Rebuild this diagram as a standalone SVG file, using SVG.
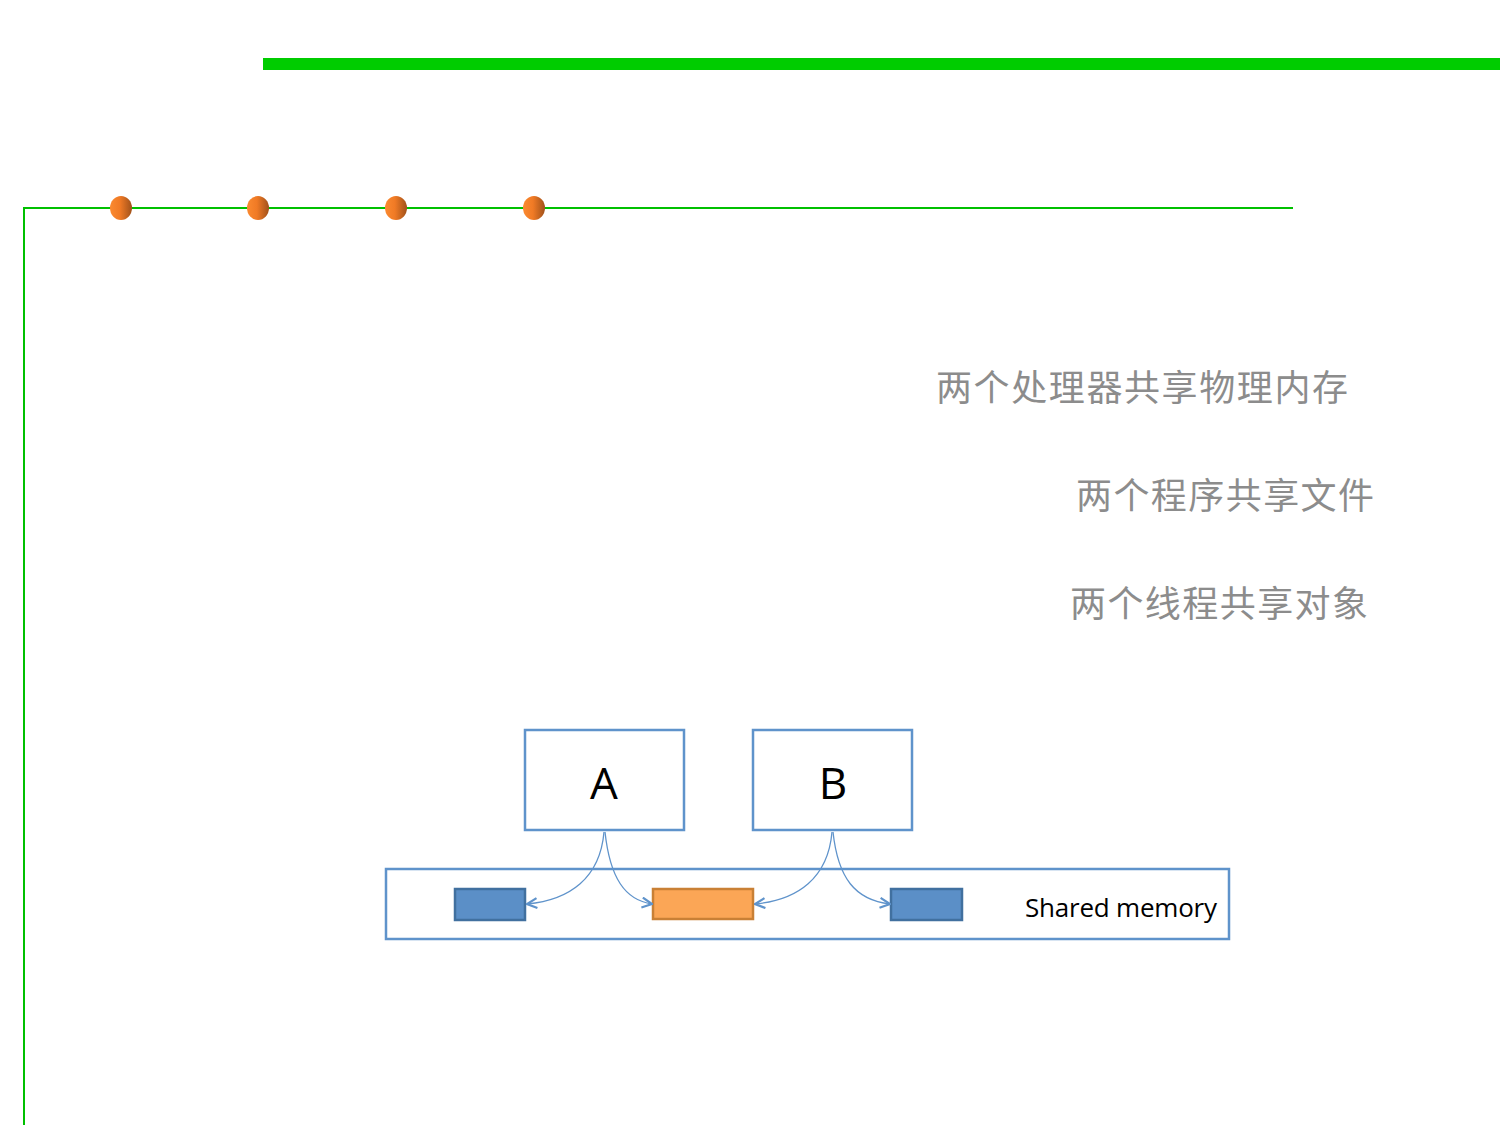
<svg xmlns="http://www.w3.org/2000/svg" width="1500" height="1125" viewBox="0 0 1500 1125">
<style>
.cn{font-family:"Noto Sans CJK SC","Noto Sans",sans-serif;font-size:36px;fill:#8c8c8c}
.box{fill:#fff;stroke:#5f93cb;stroke-width:2.5}
.lbl{font-family:"Open Sans","Liberation Sans",sans-serif;font-size:44px;fill:#000;text-anchor:middle}
.conn{fill:none;stroke:#5f93cb;stroke-width:1.3;marker-end:url(#arr)}
.blue{fill:#5b8fc7;stroke:#41709f;stroke-width:2.5}
.org{fill:#fba656;stroke:#c98035;stroke-width:2.5}
</style>
<defs>
<linearGradient id="dot" x1="0" y1="0" x2="1" y2="0">
<stop offset="0" stop-color="#fb8a30"/>
<stop offset="0.45" stop-color="#f07a25"/>
<stop offset="1" stop-color="#a0511a"/>
</linearGradient>
<marker id="arr" viewBox="0 0 12 12" refX="11" refY="6" markerWidth="12" markerHeight="12" markerUnits="userSpaceOnUse" orient="auto">
<path d="M1,1 L11,6 L1,11" fill="none" stroke="#5f93cb" stroke-width="2.2"/>
</marker>
</defs>
<rect width="1500" height="1125" fill="#fff"/>
<g id="decor">
<rect x="263" y="58" width="1237" height="12" fill="#00cc00"/>
<path d="M24,1125 V208 H1293" fill="none" stroke="#00c000" stroke-width="2"/>
<ellipse cx="121" cy="208" rx="11" ry="12" fill="url(#dot)"/>
<ellipse cx="258" cy="208" rx="11" ry="12" fill="url(#dot)"/>
<ellipse cx="396" cy="208" rx="11" ry="12" fill="url(#dot)"/>
<ellipse cx="534" cy="208" rx="11" ry="12" fill="url(#dot)"/>
</g>
<g id="texts">
<text class="cn" x="936" y="401" textLength="412">两个处理器共享物理内存</text>
<text class="cn" x="1076" y="509" textLength="298">两个程序共享文件</text>
<text class="cn" x="1070" y="617" textLength="298">两个线程共享对象</text>
</g>
<g id="shared-memory">
<rect class="box" x="386" y="869" width="843" height="70"/>
<text x="1025" y="917" font-family="'Open Sans','Liberation Sans',sans-serif" font-size="26" textLength="192" fill="#000">Shared memory</text>
</g>
<g id="node-a">
<rect class="box" x="525" y="730" width="159" height="100"/>
<text class="lbl" x="604" y="799">A</text>
</g>
<g id="node-b">
<rect class="box" x="753" y="730" width="159" height="100"/>
<text class="lbl" x="833" y="799">B</text>
</g>
<g id="cell-1"><rect class="blue" x="455" y="889" width="70" height="31"/></g>
<g id="cell-2"><rect class="org" x="653" y="889" width="100" height="30"/></g>
<g id="cell-3"><rect class="blue" x="891" y="889" width="71" height="31"/></g>
<g id="connectors">
<path class="conn" d="M604,832 C600,878 570,900 527,904"/>
<path class="conn" d="M605,832 C610,878 625,900 652,904"/>
<path class="conn" d="M832,832 C828,878 798,900 755,904"/>
<path class="conn" d="M833,832 C838,878 855,900 890,904"/>
</g>
</svg>
